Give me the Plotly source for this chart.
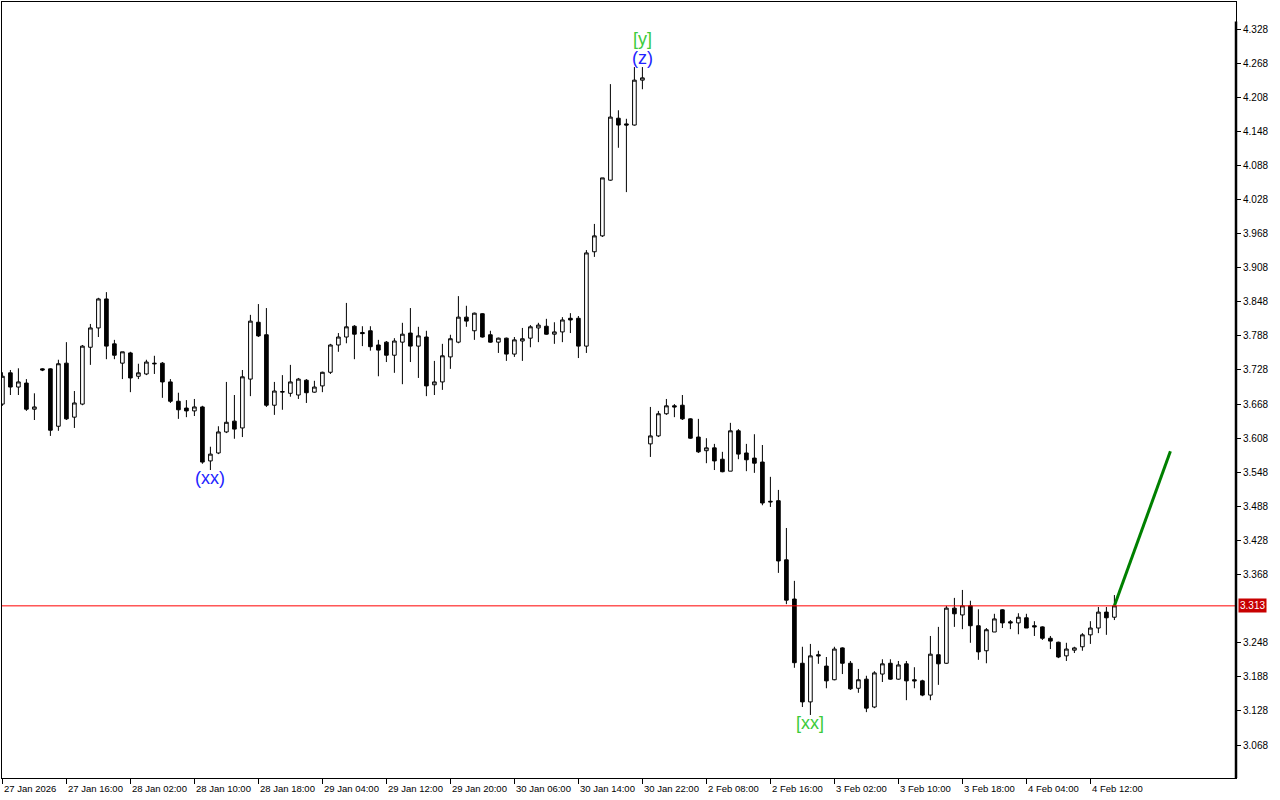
import plotly.graph_objects as go

# ---- data (hourly candles) ----
opens = [3.668, 3.723, 3.698, 3.705, 3.659, 3.730, 3.730, 3.629, 3.740, 3.645,
         3.668, 3.768, 3.802, 3.853, 3.774, 3.740, 3.758, 3.717, 3.721, 3.740,
         3.740, 3.707, 3.673, 3.661, 3.656, 3.663, 3.568, 3.582, 3.619, 3.638,
         3.626, 3.712, 3.812, 3.790, 3.666, 3.689, 3.687, 3.684, 3.710, 3.689,
         3.700, 3.724, 3.772, 3.786, 3.805, 3.794, 3.797, 3.772, 3.777, 3.754,
         3.777, 3.793, 3.770, 3.786, 3.702, 3.707, 3.751, 3.777, 3.821, 3.797,
         3.827, 3.790, 3.777, 3.784, 3.756, 3.779, 3.784, 3.802, 3.805, 3.791,
         3.795, 3.819, 3.819, 3.770, 3.936, 3.964, 4.062, 4.171, 4.161, 4.159,
         4.238, 3.598, 3.612, 3.651, 3.665, 3.666, 3.642, 3.610, 3.586, 3.591,
         3.571, 3.550, 3.621, 3.582, 3.573, 3.566, 3.497, 3.498, 3.394, 3.325,
         3.212, 3.144, 3.227, 3.207, 3.183, 3.239, 3.212, 3.168, 3.184, 3.135,
         3.193, 3.212, 3.184, 3.211, 3.183, 3.181, 3.156, 3.227, 3.212, 3.309,
         3.297, 3.313, 3.278, 3.234, 3.267, 3.306, 3.285, 3.283, 3.292, 3.278,
         3.276, 3.256, 3.249, 3.225, 3.235, 3.241, 3.262, 3.274, 3.302, 3.293]
highs = [3.724, 3.728, 3.731, 3.712, 3.687, 3.731, 3.731, 3.746, 3.777, 3.691,
         3.772, 3.809, 3.855, 3.865, 3.781, 3.760, 3.760, 3.739, 3.746, 3.753,
         3.742, 3.712, 3.688, 3.675, 3.677, 3.665, 3.593, 3.629, 3.707, 3.684,
         3.728, 3.825, 3.844, 3.837, 3.707, 3.719, 3.737, 3.714, 3.712, 3.709,
         3.725, 3.774, 3.793, 3.846, 3.807, 3.805, 3.805, 3.781, 3.779, 3.784,
         3.811, 3.837, 3.804, 3.797, 3.744, 3.774, 3.790, 3.858, 3.841, 3.829,
         3.828, 3.797, 3.785, 3.785, 3.786, 3.802, 3.807, 3.811, 3.818, 3.812,
         3.821, 3.828, 3.823, 3.939, 3.985, 4.066, 4.231, 4.185, 4.170, 4.261,
         4.261, 3.663, 3.656, 3.677, 3.668, 3.684, 3.643, 3.642, 3.608, 3.598,
         3.584, 3.635, 3.624, 3.598, 3.615, 3.596, 3.540, 3.517, 3.450, 3.357,
         3.241, 3.246, 3.234, 3.223, 3.241, 3.240, 3.216, 3.202, 3.190, 3.198,
         3.219, 3.219, 3.216, 3.216, 3.205, 3.183, 3.260, 3.276, 3.313, 3.327,
         3.341, 3.322, 3.307, 3.274, 3.299, 3.307, 3.288, 3.300, 3.299, 3.286,
         3.277, 3.260, 3.250, 3.248, 3.241, 3.265, 3.286, 3.311, 3.311, 3.332]
lows = [3.665, 3.684, 3.684, 3.656, 3.640, 3.726, 3.612, 3.621, 3.640, 3.626,
        3.666, 3.737, 3.786, 3.747, 3.747, 3.712, 3.689, 3.712, 3.719, 3.721,
        3.679, 3.670, 3.642, 3.645, 3.647, 3.563, 3.552, 3.580, 3.617, 3.607,
        3.610, 3.682, 3.786, 3.663, 3.649, 3.658, 3.681, 3.677, 3.670, 3.688,
        3.689, 3.721, 3.760, 3.775, 3.747, 3.770, 3.762, 3.717, 3.742, 3.723,
        3.703, 3.742, 3.714, 3.682, 3.684, 3.693, 3.730, 3.775, 3.804, 3.781,
        3.785, 3.776, 3.758, 3.744, 3.751, 3.744, 3.768, 3.777, 3.790, 3.774,
        3.777, 3.793, 3.749, 3.758, 3.927, 3.962, 4.061, 4.119, 4.041, 4.158,
        4.222, 3.575, 3.610, 3.649, 3.645, 3.640, 3.607, 3.582, 3.564, 3.552,
        3.548, 3.550, 3.571, 3.550, 3.547, 3.490, 3.487, 3.371, 3.316, 3.204,
        3.135, 3.121, 3.211, 3.168, 3.182, 3.193, 3.165, 3.160, 3.126, 3.133,
        3.179, 3.183, 3.183, 3.147, 3.168, 3.154, 3.147, 3.174, 3.211, 3.276,
        3.272, 3.248, 3.218, 3.212, 3.267, 3.274, 3.272, 3.263, 3.274, 3.260,
        3.253, 3.237, 3.221, 3.216, 3.230, 3.234, 3.246, 3.265, 3.262, 3.288]
closes = [3.717, 3.698, 3.707, 3.659, 3.663, 3.728, 3.622, 3.739, 3.642, 3.670,
          3.770, 3.802, 3.853, 3.770, 3.754, 3.760, 3.714, 3.723, 3.742, 3.739,
          3.707, 3.673, 3.658, 3.656, 3.663, 3.566, 3.580, 3.619, 3.636, 3.624,
          3.716, 3.814, 3.788, 3.666, 3.691, 3.690, 3.707, 3.712, 3.688, 3.698,
          3.724, 3.772, 3.786, 3.804, 3.791, 3.792, 3.769, 3.763, 3.754, 3.779,
          3.791, 3.770, 3.788, 3.700, 3.707, 3.753, 3.783, 3.821, 3.814, 3.828,
          3.786, 3.777, 3.784, 3.756, 3.781, 3.783, 3.804, 3.807, 3.791, 3.795,
          3.816, 3.816, 3.770, 3.934, 3.964, 4.066, 4.173, 4.159, 4.159, 4.238,
          4.242, 3.612, 3.651, 3.665, 3.663, 3.642, 3.608, 3.584, 3.591, 3.568,
          3.549, 3.621, 3.580, 3.570, 3.564, 3.494, 3.496, 3.392, 3.323, 3.213,
          3.144, 3.225, 3.225, 3.181, 3.237, 3.212, 3.167, 3.183, 3.133, 3.195,
          3.211, 3.184, 3.209, 3.181, 3.181, 3.156, 3.228, 3.211, 3.309, 3.299,
          3.313, 3.278, 3.232, 3.271, 3.290, 3.283, 3.283, 3.293, 3.274, 3.276,
          3.256, 3.251, 3.223, 3.237, 3.239, 3.262, 3.274, 3.302, 3.292, 3.313]

tick_bars = [0, 8, 16, 24, 32, 40, 48, 56, 64, 72, 80, 88, 96, 104, 112, 120, 128, 136]
tick_labels = ["27 Jan 2026", "27 Jan 16:00", "28 Jan 02:00", "28 Jan 10:00",
               "28 Jan 18:00", "29 Jan 04:00", "29 Jan 12:00", "29 Jan 20:00",
               "30 Jan 06:00", "30 Jan 14:00", "30 Jan 22:00", "2 Feb 08:00",
               "2 Feb 16:00", "3 Feb 02:00", "3 Feb 10:00", "3 Feb 18:00",
               "4 Feb 04:00", "4 Feb 12:00"]
price_ticks = [3.068, 3.128, 3.188, 3.248, 3.368, 3.428, 3.488, 3.548, 3.608,
               3.668, 3.728, 3.788, 3.848, 3.908, 3.968, 4.028, 4.088, 4.148,
               4.208, 4.268, 4.328]
current_price = 3.313
projection_bars = [139, 146]
projection_prices = [3.313, 3.585]
wave_texts = ["(xx)", "[y]", "(z)", "[xx]"]
wave_bars = [26, 80, 80, 101]
wave_prices = [3.538, 4.310, 4.277, 3.107]
wave_colors = ["#2323FF", "#3CCB3C", "#2323FF", "#3CCB3C"]

bars = list(range(len(opens)))
FONT = "Liberation Sans"

fig = go.Figure()
fig.add_trace(go.Candlestick(
    x=bars, open=opens, high=highs, low=lows, close=closes,
    increasing=dict(line=dict(color="black", width=1), fillcolor="white"),
    decreasing=dict(line=dict(color="black", width=1), fillcolor="black"),
    whiskerwidth=0, showlegend=False, hoverinfo="skip",
))
fig.add_trace(go.Scatter(
    x=projection_bars, y=projection_prices, mode="lines",
    line=dict(color="#008000", width=3), showlegend=False, hoverinfo="skip",
))

fig.add_shape(type="line", xref="paper", x0=0, x1=1, yref="y",
              y0=current_price, y1=current_price,
              line=dict(color="#FF0000", width=1))
# heavier right-hand frame edge (price scale border)
fig.add_shape(type="line", xref="paper", x0=1, x1=1, yref="paper",
              y0=0, y1=0.975, line=dict(color="black", width=2.5))

for t, b, p, c in zip(wave_texts, wave_bars, wave_prices, wave_colors):
    fig.add_annotation(x=b, y=p, text=t, showarrow=False,
                       font=dict(family=FONT, size=18, color=c),
                       xanchor="center", yanchor="middle")

for b, lab in zip(tick_bars, tick_labels):
    fig.add_annotation(x=b, xref="x", y=0, yref="paper", text=lab,
                       showarrow=False, xanchor="left", yanchor="top",
                       xshift=0, yshift=-3,
                       font=dict(family=FONT, size=9.5, color="black"))

fig.add_annotation(x=1, xref="paper", y=current_price, yref="y",
                   text=f"{current_price:.3f}", showarrow=False,
                   xanchor="left", yanchor="middle", xshift=2,
                   bgcolor="#C80000", borderpad=1,
                   font=dict(family=FONT, size=10, color="white"))

fig.update_layout(
    width=1280, height=800,
    margin=dict(l=2, r=44, t=2, b=22),
    paper_bgcolor="white", plot_bgcolor="white",
    boxgap=0.35,
    xaxis=dict(range=[-0.05, 154.2], rangeslider=dict(visible=False),
               showgrid=False, zeroline=False,
               tickmode="array", tickvals=tick_bars,
               ticktext=["" for _ in tick_bars],
               ticks="outside", ticklen=5, tickcolor="black",
               showline=True, linecolor="black", linewidth=1, mirror=True),
    yaxis=dict(range=[3.0101, 4.3755], side="right",
               showgrid=False, zeroline=False,
               tickmode="array", tickvals=price_ticks,
               ticktext=[f"{v:.3f}" for v in price_ticks],
               ticks="outside", ticklen=4, tickcolor="black",
               tickfont=dict(family=FONT, size=10, color="black"),
               showline=True, linecolor="black", linewidth=1, mirror=True),
    hovermode=False,
)

fig.write_html("out.html", config={"displayModeBar": False},
               post_script="document.body.style.margin='0';document.body.style.overflow='hidden';")
